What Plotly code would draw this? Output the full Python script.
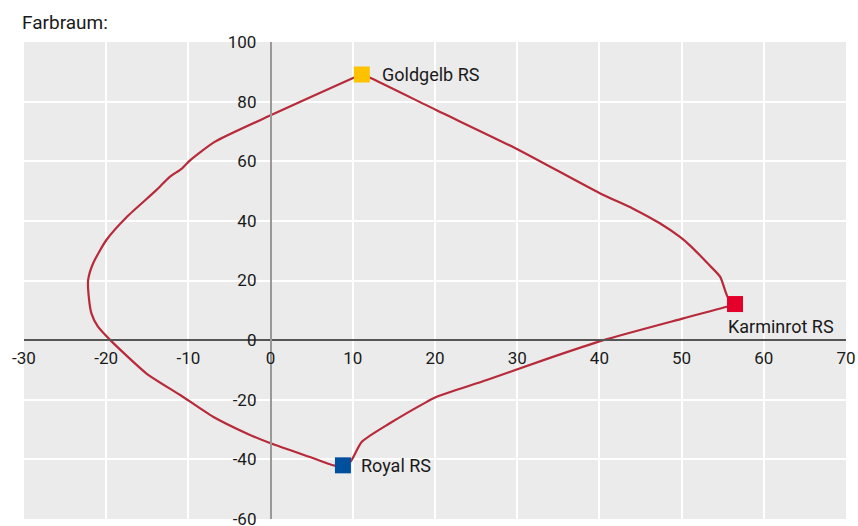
import plotly.graph_objects as go

# Gamut boundary (a*, b*)
curve_a = [11.1, 10.1, 0.0, -6.8, -9.8, -10.8, -12.3, -13.9, -17.5, -20.0, -21.6, -22.2,
           -22.1, -21.8, -21.0, -19.5, -15.1, -11.0, -7.0, -2.9, 0.0, 5.2, 7.8, 8.8,
           9.7, 11.1, 14.5, 19.0, 20.2, 26.3, 33.2, 40.5, 50.2, 55.5, 56.5,
           55.6, 54.7, 53.4, 51.0, 49.8, 47.4, 44.1, 40.1, 29.9, 20.2, 12.1, 11.1]
curve_b = [89.1, 88.0, 75.4, 66.5, 60.3, 57.5, 54.7, 50.3, 41.3, 33.5, 25.7, 20.1,
           14.0, 9.0, 4.5, 0.0, -11.2, -18.4, -25.7, -31.3, -34.6, -39.6, -42.1, -42.0,
           -40.8, -34.1, -27.9, -20.7, -19.0, -13.4, -6.7, 0.0, 7.3, 11.2, 12.1,
           14.5, 21.2, 25.1, 31.8, 34.6, 39.1, 44.1, 49.2, 64.2, 77.1, 88.0, 89.1]

# Named colour points
point_names = ["Goldgelb RS", "Royal RS", "Karminrot RS"]
point_a = [11.1, 8.8, 56.5]
point_b = [89.1, -42.0, 12.1]
point_colors = ["#FFC200", "#00509E", "#E4002B"]

x_ticks = list(range(-30, 71, 10))
x_labels = [str(v) for v in x_ticks]
y_ticks = list(range(-60, 101, 20))
y_labels = [str(v) for v in y_ticks]

FONT = "Roboto"
TXT = "#1a1a1a"

fig = go.Figure()

# split the boundary at the named points so the corners stay sharp
cuts = [0]
for a, b in zip(point_a, point_b):
    for i, (ca, cb) in enumerate(zip(curve_a, curve_b)):
        if i > 0 and ca == a and cb == b:
            cuts.append(i)
            break
cuts = sorted(set(cuts + [len(curve_a) - 1]))
for s, e in zip(cuts[:-1], cuts[1:]):
    fig.add_trace(go.Scatter(x=curve_a[s:e + 1], y=curve_b[s:e + 1], mode="lines",
                             line=dict(color="#B72A3A", width=2.2, shape="spline",
                                       smoothing=0.6),
                             hoverinfo="skip", showlegend=False))

fig.add_trace(go.Scatter(x=point_a, y=point_b, mode="markers",
                         marker=dict(symbol="square", size=16, color=point_colors,
                                     line=dict(width=0)),
                         text=point_names, showlegend=False))

label_offsets = {"Goldgelb RS": (18, 0), "Royal RS": (16, 0), "Karminrot RS": (-9, -22)}
for name, a, b in zip(point_names, point_a, point_b):
    dx, dy = label_offsets[name]
    fig.add_annotation(x=a, y=b, text=name, showarrow=False, xanchor="left",
                       yanchor="middle", xshift=dx, yshift=dy,
                       font=dict(family=FONT, size=18, color=TXT))

fig.update_layout(
    width=858, height=526,
    margin=dict(l=24, r=12, t=41.5, b=7, autoexpand=False),
    paper_bgcolor="white", plot_bgcolor="#EBEBEB",
    title=dict(text="Farbraum:", xref="container", yref="container",
               x=22 / 858, y=1 - 22.5 / 526, xanchor="left", yanchor="middle",
               automargin=False,
               font=dict(family=FONT, size=19, color=TXT)),
    xaxis=dict(range=[-30, 70], tickvals=x_ticks, ticktext=x_labels,
               anchor="free", position=0.375, automargin=False,
               ticklabeloverflow="allow",
               showline=True, linecolor="#555555", linewidth=1.5,
               gridcolor="white", gridwidth=1.5, zeroline=False,
               ticks="outside", ticklen=3, tickcolor="rgba(0,0,0,0)",
               tickfont=dict(family=FONT, size=17, color=TXT)),
    yaxis=dict(range=[-60, 100], tickvals=y_ticks, ticktext=y_labels,
               anchor="free", position=0.3, automargin=False,
               ticklabeloverflow="allow",
               showline=True, linecolor="#999999", linewidth=1.5,
               gridcolor="white", gridwidth=1.5, zeroline=False,
               ticks="outside", ticklen=10, tickcolor="rgba(0,0,0,0)",
               tickfont=dict(family=FONT, size=17, color=TXT)),
)

fig.write_html("out.html", config={"displayModeBar": False},
               post_script="document.body.style.margin='0';document.body.style.overflow='hidden';")
